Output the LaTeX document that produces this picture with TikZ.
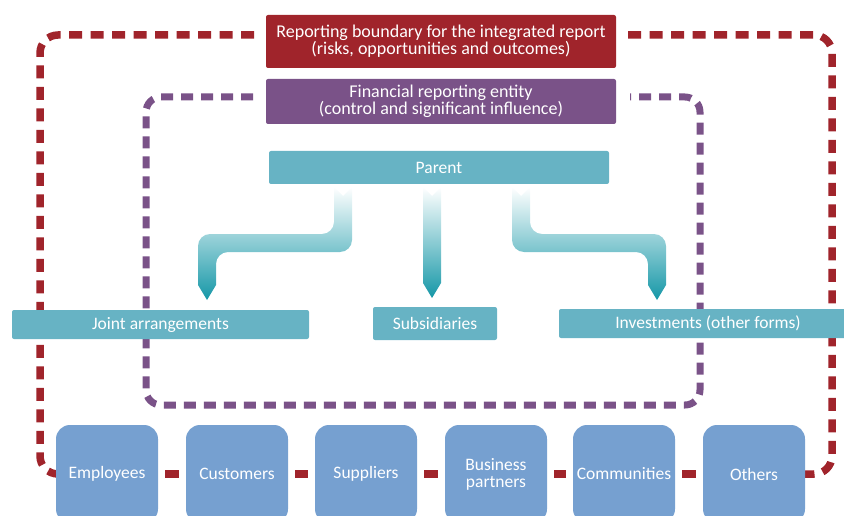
\documentclass[tikz,border=0pt]{standalone}
\usepackage{fontspec}
\setmainfont{Carlito}
\usetikzlibrary{backgrounds}
\definecolor{reportred}{RGB}{160,36,43}
\definecolor{finpurple}{RGB}{122,82,136}
\definecolor{boxteal}{RGB}{103,179,196}
\definecolor{arrowteal}{RGB}{21,151,167}
\definecolor{partyblue}{RGB}{118,160,208}
\begin{document}
\begin{tikzpicture}[x=1pt, y=-1pt,
    box/.style={rectangle, rounded corners=2pt, text=white, inner sep=0pt, align=center,
      font=\fontsize{17.5}{17}\selectfont},
    headbox/.style={box, font=\fontsize{18}{17}\selectfont, minimum width=350pt},
    party/.style={box, fill=partyblue, rounded corners=14pt, minimum width=102pt, minimum height=98pt},
    redline/.style={draw=reportred, line width=7.5pt, dash pattern=on 13pt off 8.5pt, rounded corners=18pt},
    purpleline/.style={draw=finpurple, line width=7pt, dash pattern=on 12pt off 8pt, rounded corners=15pt},
    redlink/.style={draw=reportred, line width=7.5pt, shorten <=7pt, shorten >=7pt},
    flow/.style={top color=white, bottom color=arrowteal}]
  \clip (0,0) rectangle (844,516);
  \useasboundingbox (0,0) rectangle (844,516);
  % boundaries and entities
  \node[headbox, fill=reportred, minimum height=53pt] (rep) at (441,41.5)
    {Reporting boundary for the integrated report\\(risks, opportunities and outcomes)};
  \node[headbox, fill=finpurple, minimum height=45pt] (fin) at (441,101.5)
    {Financial reporting entity\\(control and significant influence)};
  \node[box, fill=boxteal, minimum width=340pt, minimum height=33pt] (par) at (439,167.5) {Parent};
  \node[box, fill=boxteal, minimum width=297pt, minimum height=29pt] (joint) at (160.5,324.5) {Joint arrangements};
  \node[box, fill=boxteal, minimum width=124pt, minimum height=33pt] (subs) at (435,323.5) {Subsidiaries};
  \node[box, fill=boxteal, minimum width=298pt, minimum height=29pt] (inv) at (708,323.5) {Investments (other forms)};
  % stakeholders
  \node[party] (emp) at (107,474) {Employees};
  \node[party] (cus) at (237,474) {Customers};
  \node[party] (sup) at (366,474) {Suppliers};
  \node[party] (bus) at (496,474) {Business\\partners};
  \node[party] (com) at (624,474) {Communities};
  \node[party] (oth) at (754,474) {Others};
  \draw[redlink](emp) -- (cus);
  \draw[redlink](cus) -- (sup);
  \draw[redlink](sup) -- (bus);
  \draw[redlink](bus) -- (com);
  \draw[redlink](com) -- (oth);
  \begin{pgfonlayer}{background}
    \draw[redline] (254,35) -- (40,35) -- (40,474) -- (emp.west);
    \draw[redline] (628,35) -- (832,35) -- (832,474) -- (oth.east);
    \draw[purpleline] (253,97) -- (146,97) -- (146,405) -- (700,405) -- (700,97) -- (630,97);
  \end{pgfonlayer}
  % arrows from the parent
  \shade[flow] (334,187) -- (343,196) -- (352,187) [rounded corners=12pt] -- (352,252) -- (216,252)
    [sharp corners] -- (216,285) -- (207,300) -- (198,285) [rounded corners=12pt] -- (198,234)
    -- (334,234) [sharp corners] -- (334,187) -- cycle;
  \shade[flow] (423,187) -- (432,196) -- (441,187) -- (441,283) -- (432,298) -- (423,283) -- cycle;
  \shade[flow] (512,187) -- (521,196) -- (530,187) [rounded corners=12pt] -- (530,234) -- (666,234)
    [sharp corners] -- (666,285) -- (657,300) -- (648,285) [rounded corners=12pt] -- (648,252)
    -- (512,252) [sharp corners] -- (512,187) -- cycle;
\end{tikzpicture}
\end{document}
